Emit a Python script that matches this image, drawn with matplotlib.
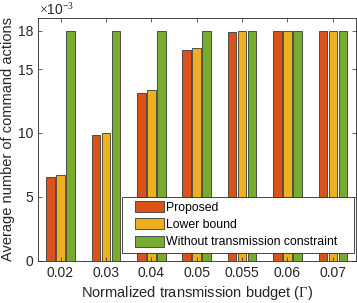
import numpy as np
import matplotlib
matplotlib.use('Agg')
import matplotlib.pyplot as plt
from matplotlib.ticker import FuncFormatter
from matplotlib.patches import Rectangle

plt.rcParams['font.family'] = ['Liberation Sans', 'DejaVu Sans']
plt.rcParams['mathtext.fontset'] = 'custom'
plt.rcParams['mathtext.rm'] = 'Liberation Serif'

budgets = ['0.02', '0.03', '0.04', '0.05', '0.055', '0.06', '0.07']
proposed = [0.00656, 0.00987, 0.01310, 0.01646, 0.01790, 0.01800, 0.01800]
lower_bound = [0.00668, 0.01000, 0.01336, 0.01664, 0.01800, 0.01800, 0.01800]
no_constraint = [0.018, 0.018, 0.018, 0.018, 0.018, 0.018, 0.018]
series = [proposed, lower_bound, no_constraint]
names = ['Proposed', 'Lower bound', 'Without transmission constraint']
colors = ['#D95319', '#EDB120', '#77AC30']

fig = plt.figure(figsize=(3.57, 3.03), dpi=100)
ax = fig.add_axes([0.106, 0.139, 0.89, 0.802])

x = np.arange(1, len(budgets) + 1)
w = 0.19
offs = [-0.22, 0.0, 0.22]
for s, n, c, o in zip(series, names, colors, offs):
    ax.bar(x + o, s, w, color=c, edgecolor='#3a3a3a', linewidth=0.6, label=n)

ax.set_xlim(0.5, 7.5)
ax.set_ylim(0, 0.019)
ax.set_xticks(x)
ax.set_xticklabels(budgets)
ax.set_yticks([0, 0.005, 0.010, 0.015, 0.018])
ax.yaxis.set_major_formatter(FuncFormatter(lambda v, p: '%g' % round(v * 1000, 3)))
ax.tick_params(direction='in', top=True, right=True, labelsize=10, colors='#262626',
               length=3, width=0.5)
for sp in ax.spines.values():
    sp.set_color('#262626')
    sp.set_linewidth(0.6)

ax.set_xlabel(r'Normalized transmission budget ($\Gamma$)', fontsize=10.5, color='#262626', labelpad=3)
ax.set_ylabel('Average number of command actions', fontsize=10.5, color='#262626', labelpad=2)
ax.text(0.003, 1.013, r'$\times$10$^{-3}$', transform=ax.transAxes, fontsize=10,
        color='#262626', ha='left', va='baseline')

# legend box (wider padding than matplotlib's legend gives)
box = Rectangle((0.264, 0.033), 0.731, 0.230, transform=ax.transAxes,
                facecolor='white', edgecolor='#262626', linewidth=0.6, zorder=4)
ax.add_patch(box)
leg = ax.legend(loc='upper left', bbox_to_anchor=(0.306, 0.246), fontsize=8.8,
                frameon=False, handlelength=2.4, handleheight=1.0, borderpad=0,
                labelspacing=0.38, handletextpad=0.12, borderaxespad=0)
leg.set_zorder(5)

fig.savefig('out.png', dpi=100)
